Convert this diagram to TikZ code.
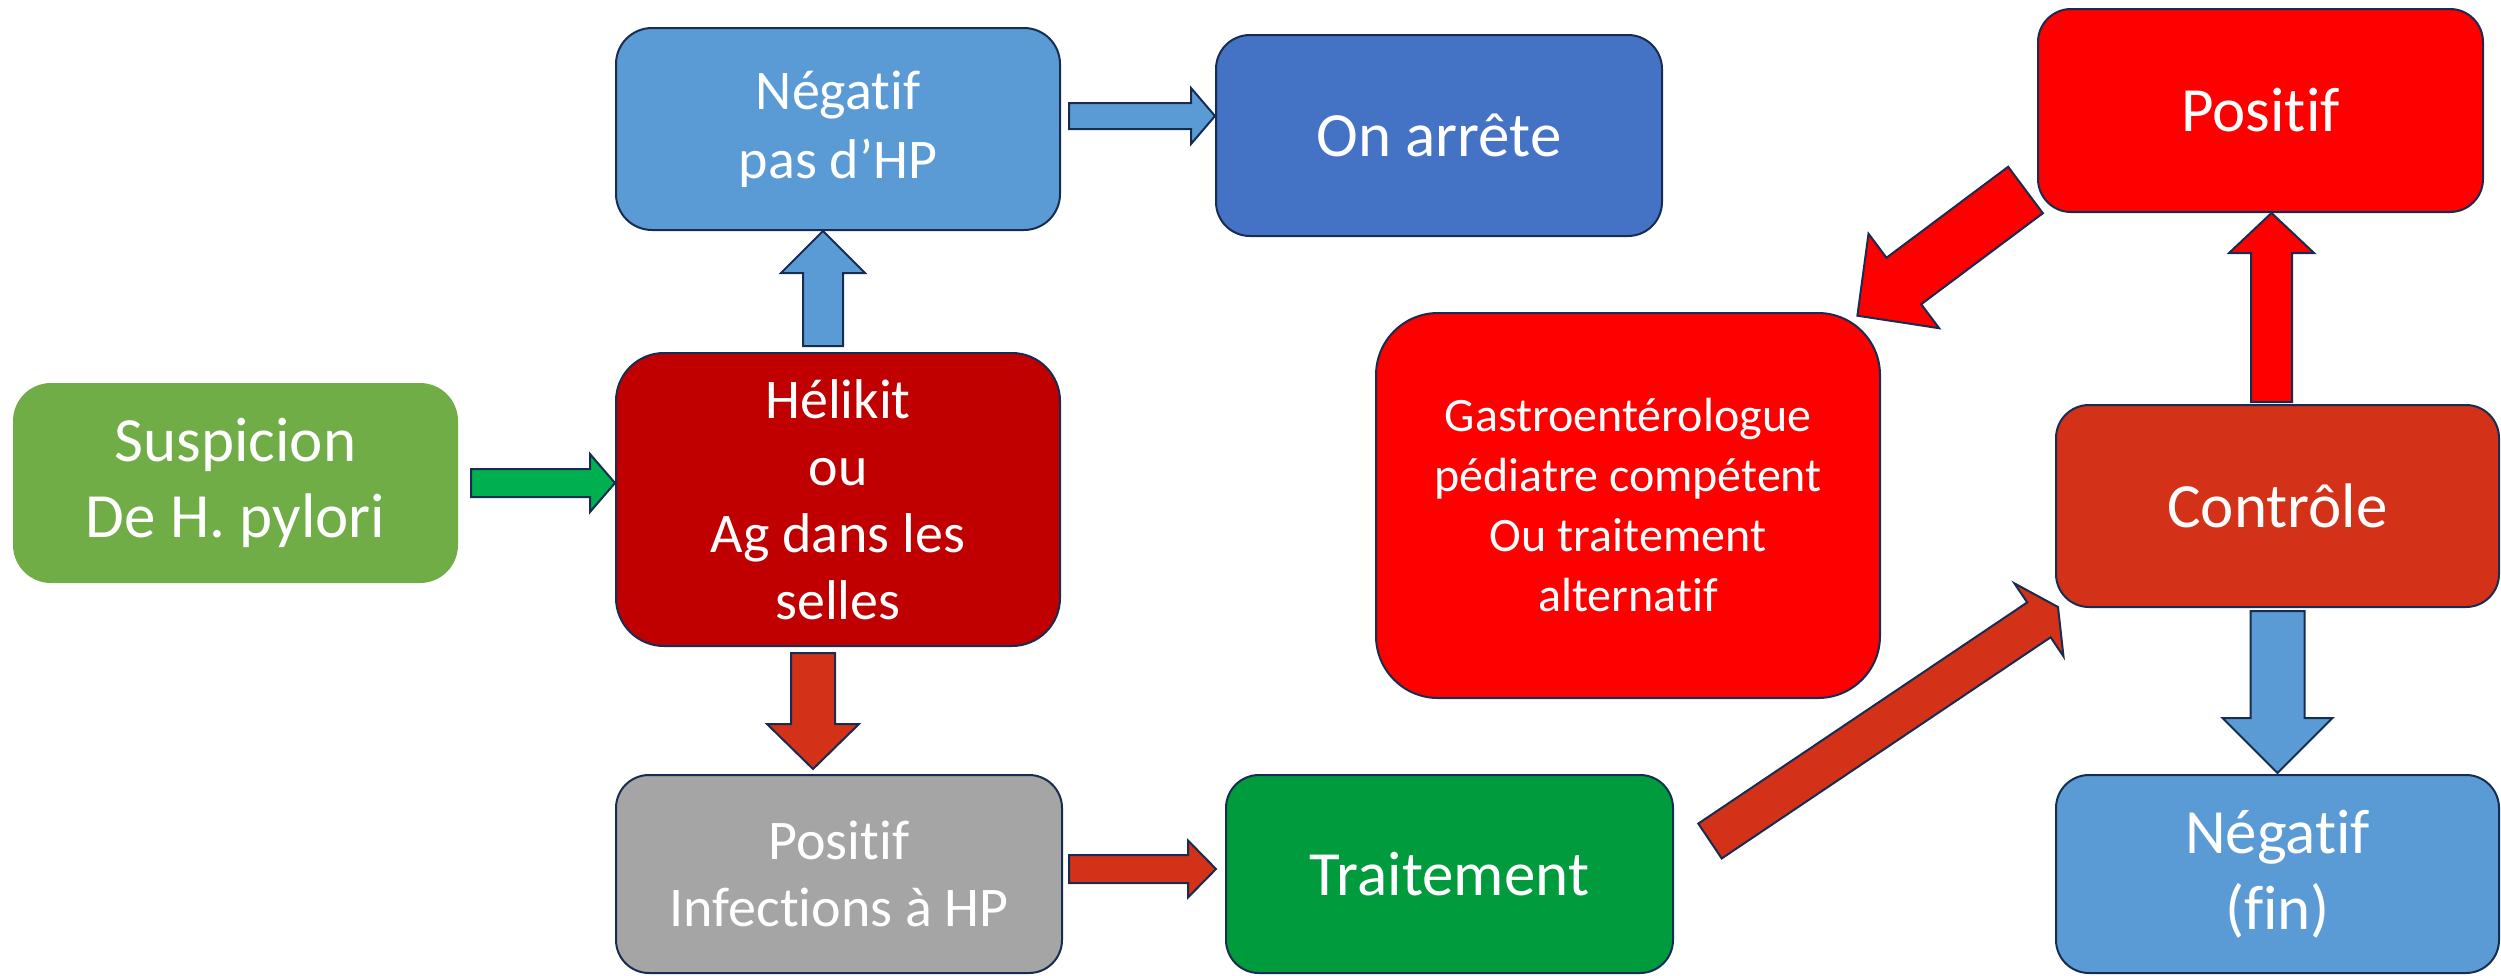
\documentclass[tikz,border=0pt]{standalone}
\usepackage{fontspec}
\setmainfont{Carlito}[Ligatures=NoCommon]
\usetikzlibrary{calc}
\definecolor{edge}{HTML}{172C51}
\definecolor{cgreen}{HTML}{70AD47}
\definecolor{cdarkred}{HTML}{C00000}
\definecolor{cblue}{HTML}{5B9BD5}
\definecolor{cdblue}{HTML}{4472C4}
\definecolor{cgray}{HTML}{A5A5A5}
\definecolor{ctreat}{HTML}{009B3D}
\definecolor{cred}{HTML}{FF0000}
\definecolor{corange}{HTML}{D33218}
\definecolor{carrowgreen}{HTML}{00B050}
\tikzset{
  box/.style={draw=edge, line width=1pt, text=white, inner sep=0pt, align=center},
  arrowline/.style={draw=edge, line width=1pt, line join=miter},
}
\newcommand\blockarrow[6]{%
  \path (#1); \pgfgetlastxy{\baX}{\baY}%
  \path (#2); \pgfgetlastxy{\bbX}{\bbY}%
  \pgfmathsetmacro\baAng{atan2(\bbY-\baY,\bbX-\baX)}%
  \pgfmathsetmacro\baLen{veclen(\bbX-\baX,\bbY-\baY)}%
  \pgfmathsetmacro\baHb{\baLen-#5*0.5}%
  \pgfmathsetmacro\baSw{#3*0.5}%
  \pgfmathsetmacro\baHw{#4*0.5}%
  \begin{scope}[shift={(\baX,\baY)}, rotate=\baAng]
    \draw[arrowline, fill=#6] (0pt,\baSw pt) -- (\baHb pt,\baSw pt) -- (\baHb pt,\baHw pt)
      -- (\baLen pt,0pt) -- (\baHb pt,-\baHw pt) -- (\baHb pt,-\baSw pt) -- (0pt,-\baSw pt) -- cycle;
  \end{scope}}
\begin{document}
\begin{tikzpicture}[x=0.5pt,y=-0.5pt]
\useasboundingbox (0,0) rectangle (2501,975);
% boxes
\node[box, draw=none, fill=cgreen, minimum width=222.5pt, minimum height=100pt, rounded corners=19pt,
  font=\fontsize{31.5}{38}\selectfont] (susp) at (235.5,483) {Suspicion\\De H. pylori};
\node[box, fill=cdarkred, minimum width=222pt, minimum height=146.5pt, rounded corners=24pt,
  font=\fontsize{28}{33.5}\selectfont] (hel) at (838,499.5) {Hélikit\\ou\\Ag dans les\\selles};
\node[box, fill=cblue, minimum width=222pt, minimum height=101pt, rounded corners=18pt,
  font=\fontsize{28}{34.5}\selectfont] (neg1) at (838,129) {Négatif\\pas d’HP};
\node[box, fill=cdblue, minimum width=223pt, minimum height=100.5pt, rounded corners=17pt,
  font=\fontsize{31.5}{38}\selectfont] (stop) at (1439,135.5) {On arrête};
\node[box, fill=cgray, minimum width=223pt, minimum height=99pt, rounded corners=16.5pt,
  font=\fontsize{28}{33.5}\selectfont] (pos1) at (839,874) {Positif\\Infections à HP};
\node[box, fill=ctreat, minimum width=223.5pt, minimum height=99pt, rounded corners=16.5pt,
  font=\fontsize{31.5}{38}\selectfont] (treat) at (1449.5,874) {Traitement};
\node[box, fill=cred, minimum width=252pt, minimum height=192.5pt, rounded corners=31pt,
  font=\fontsize{24}{30}\selectfont] (gastro) at (1628,505.5) {Gastroentérologue\\pédiatre compétent\\Ou traitement\\alternatif};
\node[box, fill=cred, minimum width=222.5pt, minimum height=101.5pt, rounded corners=16.5pt,
  font=\fontsize{31.5}{38}\selectfont] (pos2) at (2260.5,110.5) {Positif};
\node[box, fill=corange, minimum width=221.5pt, minimum height=101pt, rounded corners=16.5pt,
  font=\fontsize{31.5}{38}\selectfont] (ctrl) at (2277.5,506) {Contrôle};
\node[box, fill=cblue, minimum width=221.5pt, minimum height=99pt, rounded corners=16.5pt,
  font=\fontsize{31.5}{38}\selectfont] (neg2) at (2277.5,874) {Négatif\\(fin)};
% arrow end points
\coordinate (gA) at ([xshift=6pt]susp.east);
\coordinate (gB) at (hel.west |- susp.east);
\coordinate (buA) at ([xshift=-7.5pt,yshift=3pt]hel.north);
\coordinate (buB) at ([xshift=-7.5pt]neg1.south);
\coordinate (brA) at ([xshift=4pt,yshift=6.5pt]neg1.east);
\coordinate (brB) at ([yshift=9.75pt]stop.west);
\coordinate (rdA) at ([xshift=-12.5pt,yshift=-3pt]hel.south);
\coordinate (rdB) at ([xshift=-13pt,yshift=2.5pt]pos1.north);
\coordinate (rrA) at ([xshift=3pt,yshift=2.5pt]pos1.east);
\coordinate (rrB) at ([xshift=-4.5pt,yshift=2.5pt]treat.west);
\coordinate (d1A) at ([xshift=18pt,yshift=16.5pt]treat.east);
\coordinate (d1B) at ([xshift=1.5pt,yshift=0.5pt]ctrl.south west);
\coordinate (ruA) at ([xshift=-3pt,yshift=1pt]ctrl.north);
\coordinate (ruB) at ([xshift=5.5pt]pos2.south);
\coordinate (d2A) at ([xshift=-5.75pt,yshift=11.5pt]pos2.south west);
\coordinate (d2B) at ([xshift=-12pt,yshift=-2pt]gastro.north east);
\coordinate (bdA) at ([yshift=-1.5pt]ctrl.south);
\coordinate (bdB) at ([yshift=0.5pt]neg2.north);
% block arrows
\blockarrow{gA}{gB}{14}{29}{25}{carrowgreen}
\blockarrow{buA}{buB}{20}{42}{42}{cblue}
\blockarrow{brA}{brB}{13}{28}{24}{cblue}
\blockarrow{rdA}{rdB}{22}{46}{45}{corange}
\blockarrow{rrA}{rrB}{14}{28.5}{28}{corange}
\blockarrow{d1A}{d1B}{21}{44}{23}{corange}
\blockarrow{ruA}{ruB}{20.5}{42.5}{40}{cred}
\blockarrow{d2A}{d2B}{29}{59}{58}{cred}
\blockarrow{bdA}{bdB}{27}{55}{55}{cblue}
\end{tikzpicture}
\end{document}
